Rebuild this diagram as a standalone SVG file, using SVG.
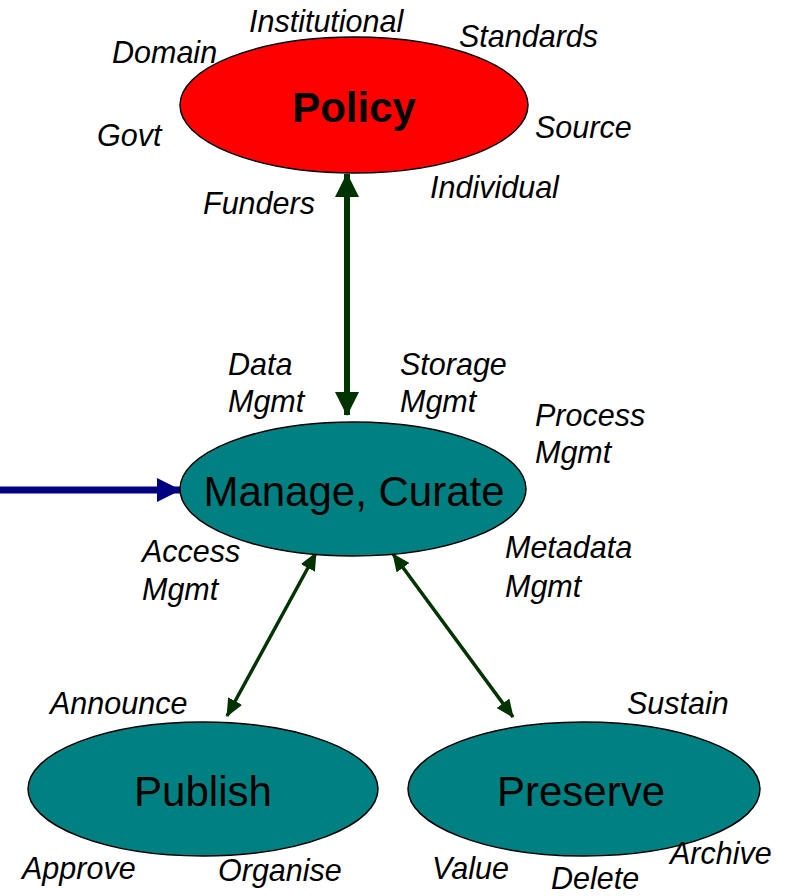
<svg xmlns="http://www.w3.org/2000/svg" width="794" height="896" viewBox="0 0 794 896">
<style>
.node{stroke:#000;stroke-width:1.5}
.red{fill:#FF0000}
.teal{fill:#008080}
.big{font-family:"Liberation Sans",Arial,sans-serif;font-size:42px;text-anchor:middle;fill:#000}
.lbl{font-family:"Liberation Sans",Arial,sans-serif;font-size:30.5px;font-style:italic;fill:#000}
.g{stroke:#003300;fill:none}
</style>
<defs>
<marker id="gbig" markerUnits="userSpaceOnUse" markerWidth="24" markerHeight="24" viewBox="0 0 24 24" refX="23" refY="12" orient="auto-start-reverse">
<path d="M0,0 L24,12 L0,24 Z" fill="#003300"/>
</marker>
<marker id="gsm" markerUnits="userSpaceOnUse" markerWidth="18" markerHeight="16" viewBox="0 0 18 16" refX="17" refY="8" orient="auto-start-reverse">
<path d="M0,0 L18,8 L0,16 Z" fill="#003300"/>
</marker>
<marker id="blue" markerUnits="userSpaceOnUse" markerWidth="24" markerHeight="24" viewBox="0 0 24 24" refX="23" refY="12" orient="auto">
<path d="M0,0 L24,12 L0,24 Z" fill="#000080"/>
</marker>
</defs>

<g id="connectors">
<line class="g" x1="347" y1="174" x2="347" y2="415" stroke-width="6" marker-start="url(#gbig)" marker-end="url(#gbig)"/>
<line x1="0" y1="490" x2="180" y2="490" stroke="#000080" stroke-width="7" marker-end="url(#blue)"/>
<line class="g" x1="316" y1="553" x2="227" y2="716" stroke-width="3.5" marker-start="url(#gsm)" marker-end="url(#gsm)"/>
<line class="g" x1="393" y1="554" x2="513" y2="717" stroke-width="3.5" marker-start="url(#gsm)" marker-end="url(#gsm)"/>
</g>

<g id="policy">
<ellipse class="node red" cx="354" cy="105" rx="174" ry="68"/>
<text class="big" x="354" y="122" font-weight="bold" font-size="41">Policy</text>
</g>

<g id="manage">
<ellipse class="node teal" cx="353" cy="489" rx="173" ry="67"/>
<text class="big" x="354" y="506">Manage, Curate</text>
</g>

<g id="publish">
<ellipse class="node teal" cx="203" cy="789" rx="175" ry="67"/>
<text class="big" x="203" y="806">Publish</text>
</g>

<g id="preserve">
<ellipse class="node teal" cx="584" cy="789" rx="176" ry="67"/>
<text class="big" x="581" y="806">Preserve</text>
</g>

<g id="labels">
<text class="lbl" x="249" y="32">Institutional</text>
<text class="lbl" x="112" y="63">Domain</text>
<text class="lbl" x="459" y="47">Standards</text>
<text class="lbl" x="535" y="138">Source</text>
<text class="lbl" x="97" y="146">Govt</text>
<text class="lbl" x="430" y="198">Individual</text>
<text class="lbl" x="203" y="214">Funders</text>
<text class="lbl" x="228" y="375">Data</text>
<text class="lbl" x="228" y="412">Mgmt</text>
<text class="lbl" x="400" y="375">Storage</text>
<text class="lbl" x="400" y="412">Mgmt</text>
<text class="lbl" x="535" y="426">Process</text>
<text class="lbl" x="535" y="463">Mgmt</text>
<text class="lbl" x="142" y="562">Access</text>
<text class="lbl" x="142" y="600">Mgmt</text>
<text class="lbl" x="505" y="558">Metadata</text>
<text class="lbl" x="505" y="597">Mgmt</text>
<text class="lbl" x="50" y="714">Announce</text>
<text class="lbl" x="627" y="714">Sustain</text>
<text class="lbl" x="22" y="879">Approve</text>
<text class="lbl" x="218" y="881">Organise</text>
<text class="lbl" x="432" y="879">Value</text>
<text class="lbl" x="551" y="889">Delete</text>
<text class="lbl" x="670" y="864">Archive</text>
</g>
</svg>
